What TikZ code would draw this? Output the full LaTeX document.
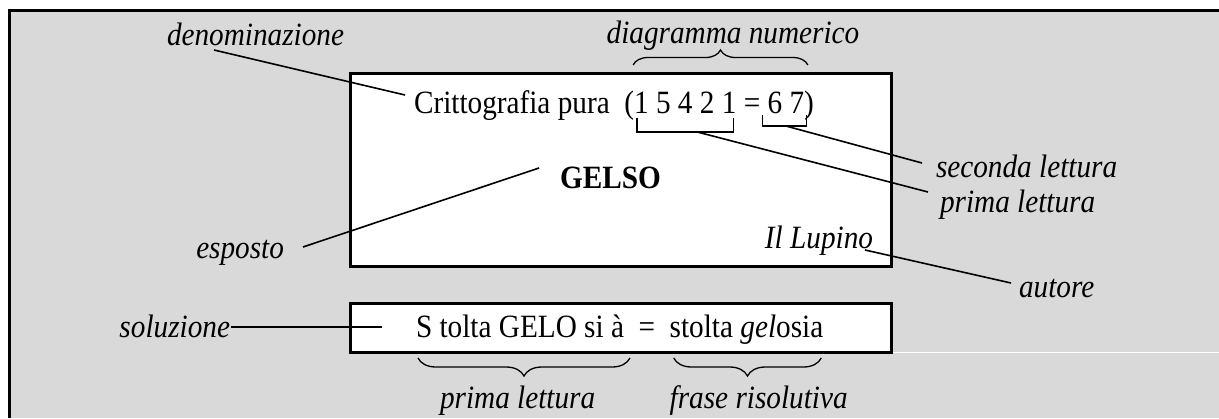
\documentclass[tikz,border=0pt]{standalone}
\usepackage{fontspec}
\setmainfont{Liberation Serif}[FakeStretch=0.9]
\usetikzlibrary{calc,decorations.pathreplacing}
\definecolor{bggray}{HTML}{D9D9D9}
\begin{document}
\begin{tikzpicture}[x=1pt,y=-1pt,
  txt/.style={inner sep=0pt,outer sep=0pt,font=\fontsize{32.5}{38}\selectfont},
  lbl/.style={inner sep=0pt,outer sep=0pt,font=\fontsize{32.5}{38}\selectfont\itshape},
  boldtxt/.style={inner sep=0pt,outer sep=0pt,font=\fontsize{32.5}{38}\selectfont\bfseries},
  frame/.style={line width=3pt},
  conn/.style={line width=1.6pt},
  brk/.style={line width=1.3pt},
  curly/.style={line width=1.3pt,decorate,decoration={brace,amplitude=#1}},
]
\useasboundingbox (0,0) rectangle (1219,418);
\fill[white] (0,0) rectangle (1219,418);
\fill[bggray] (9.5,10.5) rectangle (1219,418);
\draw[frame] (8,10.5) -- (1219,10.5);
\draw[frame] (9.5,9) -- (9.5,418);
\draw[white,line width=1pt] (892.5,352.8) -- (1219,352.8);

% main box
\draw[frame,fill=white] (350,73.5) rectangle (891,266.5);
\node[txt,anchor=base west] (c1) at (414,113) {Crittografia pura\ \ (};
\node[txt,anchor=base west] (d1) at (c1.base east) {1 5 4 2 1};
\node[txt,anchor=base west] (eq1) at (d1.base east) {\ =\ \mbox{}};
\node[txt,anchor=base west] (d2) at (eq1.base east) {6 7};
\node[txt,anchor=base west] (c2) at (d2.base east) {)};
\draw[brk] ($(d1.base west)+(3,5)$) -- ++(0,14) -| ($(d1.base east)+(-3,5)$);
\coordinate (b1) at ($(d1.base)+(12,19)$);
\draw[brk] ($(d2.base west)+(-5,2)$) -- ++(0,11) -| ($(d2.base east)+(2,2)$);
\coordinate (b2) at ($(d2.base)+(0,13)$);

\node[boldtxt,anchor=base west] (gel) at (560,188) {GELSO};
\node[lbl,anchor=base east] (lup) at (873,248) {Il Lupino};

% labels
\node[lbl,anchor=base west] (den) at (167,45) {denominazione};
\draw[conn] ($(den.base west)+(47,5)$) -- ($(c1.base west)+(-9,-18)$);
\node[lbl,anchor=base] (dn) at (733,43) {diagramma numerico};
\draw[curly=15] ($(d1.base west)+(-1,-48)$) -- ($(c2.base east)+(-6,-48)$);

\node[lbl,anchor=base west] (sl) at (936,177) {seconda lettura};
\node[lbl,anchor=base west] (plr) at (940,212) {prima lettura};
\draw[conn] (b2) -- ($(sl.base west)+(-14,-14)$);
\draw[conn] (b1) -- ($(plr.base west)+(-12,-20)$);

\node[lbl,anchor=base east] (esp) at (284,258) {esposto};
\draw[conn] ($(esp.base east)+(19,-11)$) -- ($(gel.base west)+(-21,-20)$);
\node[lbl,anchor=base west] (aut) at (1019,297) {autore};
\draw[conn] ($(lup.base east)+(-8,2)$) -- ($(aut.base west)+(-8,-14)$);

% solution box
\draw[frame,fill=white] (350,303.5) rectangle (891,352.5);
\node[txt,anchor=base west] (s1) at (416,337) {S tolta GELO si à};
\node[txt,anchor=base west] (eq2) at (s1.base east) {\ \ =\ \ \mbox{}};
\node[txt,anchor=base west] (s2) at (eq2.base east) {stolta \textit{gel}osia};
\node[lbl,anchor=base east] (sol) at (230,337) {soluzione};
\draw[conn] ($(sol.base east)+(1,-10)$) -- ($(s1.base west)+(-34,-10)$);

\draw[curly=18] ($(s1.base east)+(6,21)$) -- ($(s1.base west)+(2,21)$);
\draw[curly=18] ($(s2.base east)+(-2,21)$) -- ($(s2.base west)+(4,21)$);
\node[lbl,anchor=base west] (pl2) at ($(s1.base west)+(24,71)$) {prima lettura};
\node[lbl,anchor=base west] (fr) at ($(s2.base west)+(0,71)$) {frase risolutiva};
\end{tikzpicture}
\end{document}
